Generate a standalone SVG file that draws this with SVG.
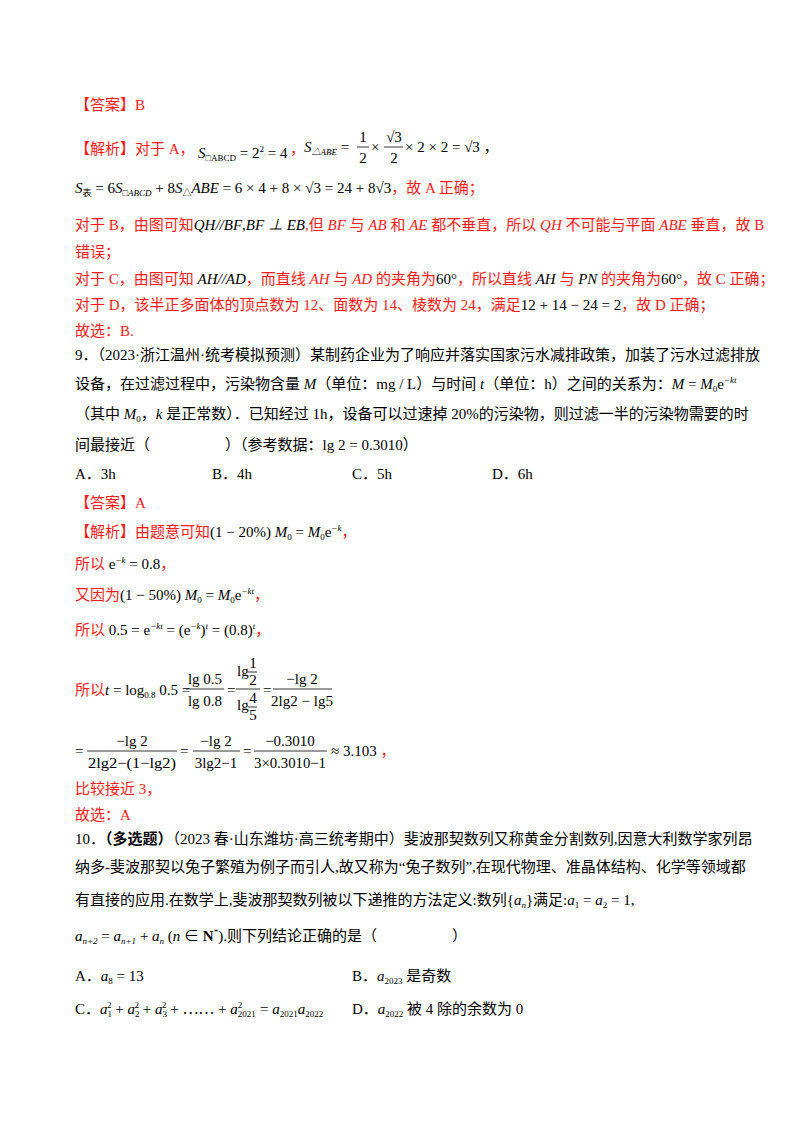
<svg xmlns="http://www.w3.org/2000/svg" width="800" height="1132" viewBox="0 0 800 1132">
<style>
text{font-family:"Liberation Serif","Noto Sans CJK SC",serif;font-size:15px;fill:#000}
.r{fill:#ff1a1a}
.i{font-style:italic}
.s{font-size:9px}
.b{font-weight:bold}
.m{text-anchor:middle}
line{stroke:#000;stroke-width:0.8}
</style>
<rect width="800" height="1132" fill="#fff"/>
<g id="answer8">
<text x="75" y="110" class="r">【答案】B</text>
<text x="75" y="154" class="r">【解析】对于 A，</text>
<text x="198" y="158"><tspan class="i">S</tspan><tspan class="s" dy="3">□ABCD</tspan><tspan dy="-3"> = 2</tspan><tspan class="s" dy="-6">2</tspan><tspan dy="6"> = 4</tspan></text>
<text x="290" y="154" class="r">，</text>
<text x="304" y="152"><tspan class="i">S</tspan><tspan class="s i" dy="3">△ABE</tspan><tspan dy="-3"> =</tspan></text>
<text x="363" y="142" class="m">1</text><line x1="357" y1="147" x2="369" y2="147"/><text x="363" y="163" class="m">2</text>
<text x="371" y="152">×</text>
<text x="394" y="142" class="m">√3</text><line x1="384" y1="147" x2="403" y2="147"/><text x="394" y="163" class="m">2</text>
<text x="405" y="152">× 2 × 2 = √3 ，</text>
<text x="75" y="193"><tspan class="i">S</tspan><tspan class="s" dy="3">表</tspan><tspan dy="-3"> = 6</tspan><tspan class="i">S</tspan><tspan class="s i" dy="3">□ABCD</tspan><tspan dy="-3"> + 8</tspan><tspan class="i">S</tspan><tspan class="s" dy="3">△</tspan><tspan class="i" dy="-3">ABE</tspan><tspan> = 6 × 4 + 8 × √3 = 24 + 8√3</tspan><tspan class="r">，故 A 正确；</tspan></text>
<text x="75" y="230" class="r">对于 B，由图可知<tspan class="i" fill="#000">QH//BF</tspan><tspan fill="#000">,</tspan><tspan class="i" fill="#000">BF ⊥ EB</tspan>,但 <tspan class="i">BF</tspan> 与 <tspan class="i">AB</tspan> 和 <tspan class="i">AE</tspan> 都不垂直，所以 <tspan class="i">QH</tspan> 不可能与平面 <tspan class="i">ABE</tspan> 垂直，故 B</text>
<text x="75" y="257" class="r">错误；</text>
<text x="75" y="284" class="r">对于 C，由图可知 <tspan class="i" fill="#000">AH//AD</tspan>，而直线 <tspan class="i">AH</tspan> 与 <tspan class="i">AD</tspan> 的夹角为<tspan fill="#000">60°</tspan>，所以直线 <tspan class="i" fill="#000">AH</tspan> 与 <tspan class="i" fill="#000">PN</tspan> 的夹角为<tspan fill="#000">60°</tspan>，故 C 正确；</text>
<text x="75" y="310" class="r">对于 D，该半正多面体的顶点数为 12、面数为 14、棱数为 24，满足<tspan fill="#000">12 + 14 − 24 = 2</tspan>，故 D 正确；</text>
<text x="75" y="336" class="r">故选：B.</text>
</g>
<g id="question9">
<text x="75" y="360">9．（2023·浙江温州·统考模拟预测）某制药企业为了响应并落实国家污水减排政策，加装了污水过滤排放</text>
<text x="75" y="389">设备，在过滤过程中，污染物含量 <tspan class="i">M</tspan>（单位：mg / L）与时间 <tspan class="i">t</tspan>（单位：h）之间的关系为：<tspan class="i">M</tspan> = <tspan class="i">M</tspan><tspan class="s" dy="3">0</tspan><tspan dy="-3">e</tspan><tspan class="s i" dy="-6">−kt</tspan></text>
<text x="75" y="419">（其中 <tspan class="i">M</tspan><tspan class="s" dy="3">0</tspan><tspan dy="-3">，</tspan><tspan class="i">k</tspan> 是正常数）．已知经过 1h，设备可以过速掉 20%的污染物，则过滤一半的污染物需要的时</text>
<text x="75" y="450">间最接近（　　　　　）（参考数据：lg 2 = 0.3010）</text>
<text x="75" y="479">A．3h</text>
<text x="212" y="479">B．4h</text>
<text x="352" y="479">C．5h</text>
<text x="492" y="479">D．6h</text>
</g>
<g id="answer9">
<text x="75" y="508" class="r">【答案】A</text>
<text x="75" y="537" class="r">【解析】由题意可知<tspan fill="#000">(1 − 20%) </tspan><tspan fill="#000" class="i">M</tspan><tspan fill="#000" class="s" dy="3">0</tspan><tspan fill="#000" dy="-3"> = </tspan><tspan fill="#000" class="i">M</tspan><tspan fill="#000" class="s" dy="3">0</tspan><tspan fill="#000" dy="-3">e</tspan><tspan fill="#000" class="s i" dy="-6">−k</tspan><tspan dy="6">，</tspan></text>
<text x="75" y="569" class="r">所以<tspan fill="#000"> e</tspan><tspan fill="#000" class="s i" dy="-6">−k</tspan><tspan fill="#000" dy="6"> = 0.8</tspan>，</text>
<text x="75" y="600" class="r">又因为<tspan fill="#000">(1 − 50%) </tspan><tspan fill="#000" class="i">M</tspan><tspan fill="#000" class="s" dy="3">0</tspan><tspan fill="#000" dy="-3"> = </tspan><tspan fill="#000" class="i">M</tspan><tspan fill="#000" class="s" dy="3">0</tspan><tspan fill="#000" dy="-3">e</tspan><tspan fill="#000" class="s i" dy="-6">−kt</tspan><tspan dy="6">，</tspan></text>
<text x="75" y="635" class="r">所以<tspan fill="#000"> 0.5 = e</tspan><tspan fill="#000" class="s i" dy="-6">−kt</tspan><tspan fill="#000" dy="6"> = (e</tspan><tspan fill="#000" class="s i" dy="-6">−k</tspan><tspan fill="#000" dy="6">)</tspan><tspan fill="#000" class="s i" dy="-6">t</tspan><tspan fill="#000" dy="6"> = (0.8)</tspan><tspan fill="#000" class="s i" dy="-6">t</tspan><tspan dy="6">，</tspan></text>
<text x="75" y="695" class="r">所以<tspan fill="#000" class="i">t</tspan><tspan fill="#000"> = log</tspan><tspan fill="#000" class="s" dy="3">0.8</tspan><tspan fill="#000" dy="-3"> 0.5 =</tspan></text>
<text x="205" y="684" class="m">lg 0.5</text><line x1="186" y1="689" x2="224" y2="689"/><text x="205" y="706" class="m">lg 0.8</text>
<text x="227" y="695">=</text>
<text x="237" y="676">lg</text><text x="253" y="668" font-size="13" class="m">1</text><line x1="248" y1="672" x2="257" y2="672"/><text x="253" y="685" font-size="13" class="m">2</text>
<line x1="236" y1="689" x2="260" y2="689"/>
<text x="237" y="710">lg</text><text x="253" y="703" font-size="13" class="m">4</text><line x1="248" y1="707" x2="257" y2="707"/><text x="253" y="720" font-size="13" class="m">5</text>
<text x="263" y="695">=</text>
<text x="302" y="684" class="m">−lg 2</text><line x1="273" y1="689" x2="332" y2="689"/><text x="302" y="706" class="m">2lg2 − lg5</text>
<text x="75" y="756">=</text>
<text x="132" y="746" class="m">−lg 2</text><line x1="87" y1="751" x2="177" y2="751"/><text x="132" y="768" class="m" textLength="88" lengthAdjust="spacingAndGlyphs">2lg2−(1−lg2)</text>
<text x="180" y="756">=</text>
<text x="216" y="746" class="m">−lg 2</text><line x1="193" y1="751" x2="240" y2="751"/><text x="216" y="768" class="m">3lg2−1</text>
<text x="243" y="756">=</text>
<text x="290" y="746" class="m">−0.3010</text><line x1="254" y1="751" x2="327" y2="751"/><text x="290" y="768" class="m" textLength="72" lengthAdjust="spacingAndGlyphs">3×0.3010−1</text>
<text x="331" y="756">≈ 3.103<tspan class="r"> ，</tspan></text>
<text x="75" y="794" class="r">比较接近 3，</text>
<text x="75" y="820" class="r">故选：A</text>
</g>
<g id="question10">
<text x="75" y="844">10．<tspan class="b">（多选题）</tspan>（2023 春·山东潍坊·高三统考期中）斐波那契数列又称黄金分割数列,因意大利数学家列昂</text>
<text x="75" y="872">纳多-斐波那契以兔子繁殖为例子而引人,故又称为“兔子数列”,在现代物理、准晶体结构、化学等领域都</text>
<text x="75" y="905">有直接的应用.在数学上,斐波那契数列被以下递推的方法定义:数列{<tspan class="i">a</tspan><tspan class="s i" dy="3">n</tspan><tspan dy="-3">}满足:</tspan><tspan class="i">a</tspan><tspan class="s" dy="3">1</tspan><tspan dy="-3"> = </tspan><tspan class="i">a</tspan><tspan class="s" dy="3">2</tspan><tspan dy="-3"> = 1,</tspan></text>
<text x="75" y="941"><tspan class="i">a</tspan><tspan class="s i" dy="3">n+2</tspan><tspan dy="-3"> = </tspan><tspan class="i">a</tspan><tspan class="s i" dy="3">n+1</tspan><tspan dy="-3"> + </tspan><tspan class="i">a</tspan><tspan class="s i" dy="3">n</tspan><tspan dy="-3"> (</tspan><tspan class="i">n</tspan><tspan> ∈ </tspan><tspan class="b">N</tspan><tspan class="s" dy="-6">*</tspan><tspan dy="6">).则下列结论正确的是（　　　　　）</tspan></text>
<text x="75" y="981">A．<tspan class="i">a</tspan><tspan class="s" dy="3">8</tspan><tspan dy="-3"> = 13</tspan></text>
<text x="352" y="981">B．<tspan class="i">a</tspan><tspan class="s" dy="3">2023</tspan><tspan dy="-3"> 是奇数</tspan></text>
<text x="75" y="1014">C．<tspan class="i">a</tspan><tspan class="s" dy="3">1</tspan><tspan class="s" dx="-5" dy="-9">2</tspan><tspan dy="6"> + </tspan><tspan class="i">a</tspan><tspan class="s" dy="3">2</tspan><tspan class="s" dx="-5" dy="-9">2</tspan><tspan dy="6"> + </tspan><tspan class="i">a</tspan><tspan class="s" dy="3">3</tspan><tspan class="s" dx="-5" dy="-9">2</tspan><tspan dy="6"> + ⋯⋯ + </tspan><tspan class="i">a</tspan><tspan class="s" dy="3">2021</tspan><tspan class="s" dx="-18" dy="-9">2</tspan><tspan dy="6" dx="14"> = </tspan><tspan class="i">a</tspan><tspan class="s" dy="3">2021</tspan><tspan class="i" dy="-3">a</tspan><tspan class="s" dy="3">2022</tspan></text>
<text x="352" y="1014">D．<tspan class="i">a</tspan><tspan class="s" dy="3">2022</tspan><tspan dy="-3"> 被 4 除的余数为 0</tspan></text>
</g>
</svg>
